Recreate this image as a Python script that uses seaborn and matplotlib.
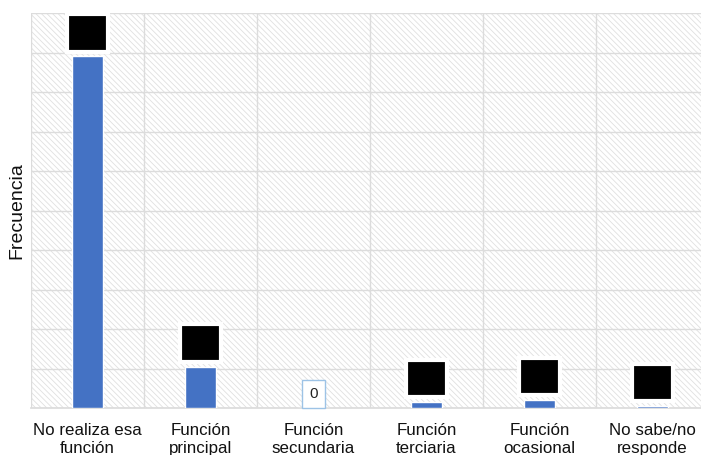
import numpy as np
import pandas as pd
import matplotlib
matplotlib.use("Agg")
import matplotlib.pyplot as plt
import seaborn as sns
from matplotlib.patches import Rectangle
from matplotlib.offsetbox import DrawingArea, AnnotationBbox
from matplotlib.text import Text

sns.set_theme(style="white")
plt.rcParams['font.family'] = ['Liberation Sans', 'DejaVu Sans']
plt.rcParams['hatch.linewidth'] = 0.6

categorias = ["No realiza esa\nfunción", "Función\nprincipal", "Función\nsecundaria",
              "Función\nterciaria", "Función\nocasional", "No sabe/no\nresponde"]
frecuencia = [178, 21, 0, 3, 4, 1]
y_ticks = list(range(0, 201, 20))

df = pd.DataFrame({"categoria": categorias, "frecuencia": frecuencia})

fig = plt.figure(figsize=(7.01, 4.55), dpi=100)
ax = fig.add_axes([31 / 701, 47 / 455, 678 / 701, 395 / 455])

# hatched background of the plot area
bg = Rectangle((0, 0), 1, 1, transform=ax.transAxes, facecolor='white',
               edgecolor='#e0e0e0', linewidth=0, hatch='\\' * 6, zorder=0)
ax.add_patch(bg)

sns.barplot(data=df, x="categoria", y="frecuencia", color="#4472c4",
            width=0.27, saturation=1, ax=ax, zorder=3)

ax.set_xlim(-0.5, len(categorias) - 0.5)
ax.set_ylim(0, 200)
ax.set_yticks(y_ticks)
ax.set_yticklabels([])
ax.set_xticks(np.arange(-0.5, len(categorias), 1), minor=True)
ax.grid(True, which='major', axis='y', color='#dcdcdc', linewidth=1, zorder=1)
ax.grid(True, which='minor', axis='x', color='#dcdcdc', linewidth=1, zorder=1)
ax.set_axisbelow(True)
ax.tick_params(axis='both', which='both', length=0)
ax.tick_params(axis='x', labelsize=12.2, pad=11, colors='#111111')
for s in ['left', 'top', 'right']:
    ax.spines[s].set_visible(False)
ax.spines['bottom'].set_color('#dcdcdc')
ax.set_xlabel("")
ax.set_ylabel("Frecuencia", fontsize=14, color='#111111')
ax.yaxis.set_label_coords(-0.009, 0.5)

# data labels: values hidden behind black boxes, zero shown plainly
for i, v in enumerate(frecuencia):
    if v == 0:
        ax.annotate(str(v), (i, v), xytext=(0, 5), textcoords='offset points',
                    ha='center', va='bottom', fontsize=11, color='#222222',
                    bbox=dict(boxstyle='square,pad=0.45', fc='white',
                              ec='#9dc3e6', lw=1), zorder=5)
    else:
        da = DrawingArea(29, 27, 0, 0)
        da.add_artist(Rectangle((0, 0), 29, 27, fc='black', ec='white', lw=3))
        da.add_artist(Text(14.5, 13.5, str(v), color='black', ha='center',
                           va='center', fontsize=11))
        ab = AnnotationBbox(da, (i, v), xybox=(0, 3.5), xycoords='data',
                            boxcoords='offset points', box_alignment=(0.5, 0),
                            frameon=False, pad=0, zorder=5)
        ax.add_artist(ab)

fig.savefig("out.png", dpi=100)
